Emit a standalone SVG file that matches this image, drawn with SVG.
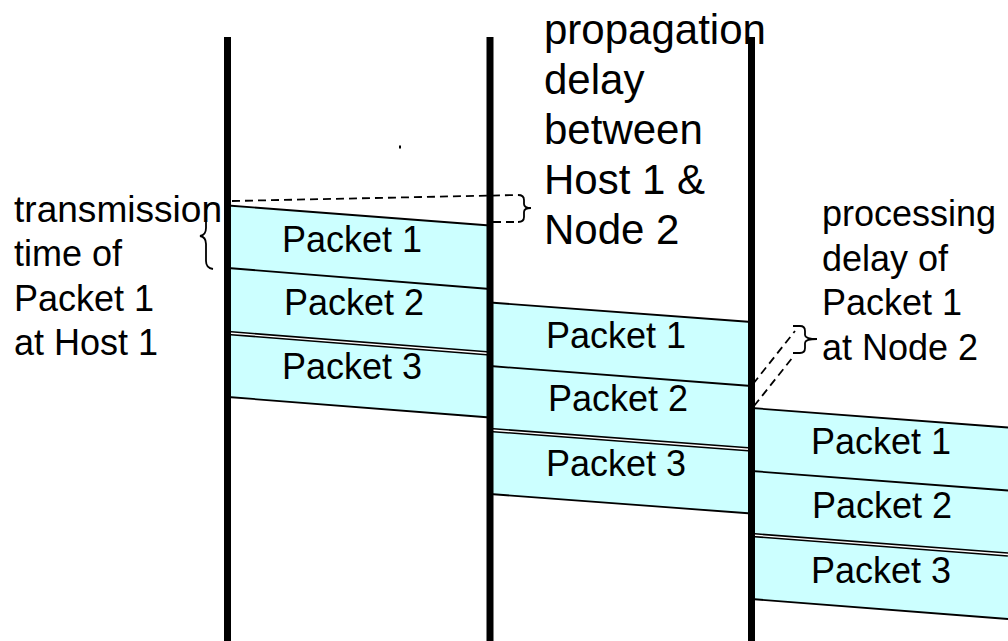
<svg xmlns="http://www.w3.org/2000/svg" width="1008" height="641" viewBox="0 0 1008 641">
<style>
.t{font-family:"Liberation Sans",Arial,sans-serif;font-size:36px;fill:#000}
.big{font-size:42px}
.band{fill:#CCFFFF;stroke:none}
.edge{stroke:#000;stroke-width:1.8;fill:none}
.dbl{stroke:#000;stroke-width:4.5;fill:none}
.dblw{stroke:#fff;stroke-width:1.3;fill:none}
.vl{stroke:#000;stroke-width:7}
.dash{stroke:#000;stroke-width:1.8;fill:none;stroke-dasharray:8 5}
.br{stroke:#000;stroke-width:1.8;fill:none}
</style>
<rect width="1008" height="641" fill="#fff"/>
<g id="band1">
<polygon class="band" points="228,205.5 490,225.5 490,417.5 228,397"/>
<line class="edge" x1="228" y1="205.5" x2="490" y2="225.5"/>
<line class="edge" x1="228" y1="268" x2="490" y2="289"/>
<line class="dbl" x1="228" y1="333" x2="490" y2="353.5"/>
<line class="dblw" x1="228" y1="333" x2="490" y2="353.5"/>
<line class="edge" x1="228" y1="397" x2="490" y2="417.5"/>
<text class="t" x="282" y="252">Packet 1</text>
<text class="t" x="284" y="315">Packet 2</text>
<text class="t" x="282" y="379">Packet 3</text>
</g>
<g id="band2">
<polygon class="band" points="490,302.5 751.5,322 751.5,513.5 490,494"/>
<line class="edge" x1="490" y1="302.5" x2="751.5" y2="322"/>
<line class="edge" x1="490" y1="366" x2="751.5" y2="386"/>
<line class="dbl" x1="490" y1="430" x2="751.5" y2="449.5"/>
<line class="dblw" x1="490" y1="430" x2="751.5" y2="449.5"/>
<line class="edge" x1="490" y1="494" x2="751.5" y2="513.5"/>
<text class="t" x="546" y="348">Packet 1</text>
<text class="t" x="548" y="411">Packet 2</text>
<text class="t" x="546" y="476">Packet 3</text>
</g>
<g id="band3">
<polygon class="band" points="751.5,408 1008,427.5 1008,619 751.5,599"/>
<line class="edge" x1="751.5" y1="408" x2="1008" y2="427.5"/>
<line class="edge" x1="751.5" y1="471" x2="1008" y2="490.5"/>
<line class="dbl" x1="751.5" y1="535" x2="1008" y2="554.5"/>
<line class="dblw" x1="751.5" y1="535" x2="1008" y2="554.5"/>
<line class="edge" x1="751.5" y1="599" x2="1008" y2="619"/>
<text class="t" x="811" y="454">Packet 1</text>
<text class="t" x="812" y="518">Packet 2</text>
<text class="t" x="811" y="583">Packet 3</text>
</g>
<g id="connectors">
<polyline class="dash" points="232,201 518,195"/>
<line class="dash" x1="493" y1="222" x2="518" y2="222"/>
<path class="br" d="M518,195 Q524,195 524,200 L524,204 Q524,208 531,208 Q524,208 524,212 L524,217 Q524,222 518,222"/>
<line class="dash" x1="753" y1="384" x2="795" y2="331"/>
<line class="dash" x1="754" y1="406" x2="793" y2="357"/>
<path class="br" d="M793,326 L800,326 Q805,326 805,331 L805,335 Q805,339 817,339 Q805,339 805,343 L805,348 Q805,353 800,353 L793,353"/>
<path class="br" d="M213,203 Q206,204 206,211 L206,228 Q206,235 200,236 Q206,237 206,244 L206,261 Q206,268 213,269"/>
</g>
<g id="lines">
<line class="vl" x1="227.5" y1="37" x2="227.5" y2="641"/>
<line class="vl" x1="490" y1="37" x2="490" y2="641"/>
<line class="vl" x1="751.5" y1="37" x2="751.5" y2="641"/>
</g>
<rect x="399" y="145.5" width="2" height="3" fill="#000"/>
<g id="label-transmission">
<text class="t" x="14" y="222" textLength="208" lengthAdjust="spacingAndGlyphs">transmission</text>
<text class="t" x="14" y="266">time of</text>
<text class="t" x="14" y="311">Packet 1</text>
<text class="t" x="14" y="355">at Host 1</text>
</g>
<g id="label-propagation">
<text class="t big" x="544" y="44">propagation</text>
<text class="t big" x="544" y="94">delay</text>
<text class="t big" x="544" y="144">between</text>
<text class="t big" x="544" y="194">Host 1 &amp;</text>
<text class="t big" x="544" y="244">Node 2</text>
</g>
<g id="label-processing">
<text class="t" x="822" y="226">processing</text>
<text class="t" x="822" y="271">delay of</text>
<text class="t" x="822" y="315">Packet 1</text>
<text class="t" x="822" y="360">at Node 2</text>
</g>
</svg>
